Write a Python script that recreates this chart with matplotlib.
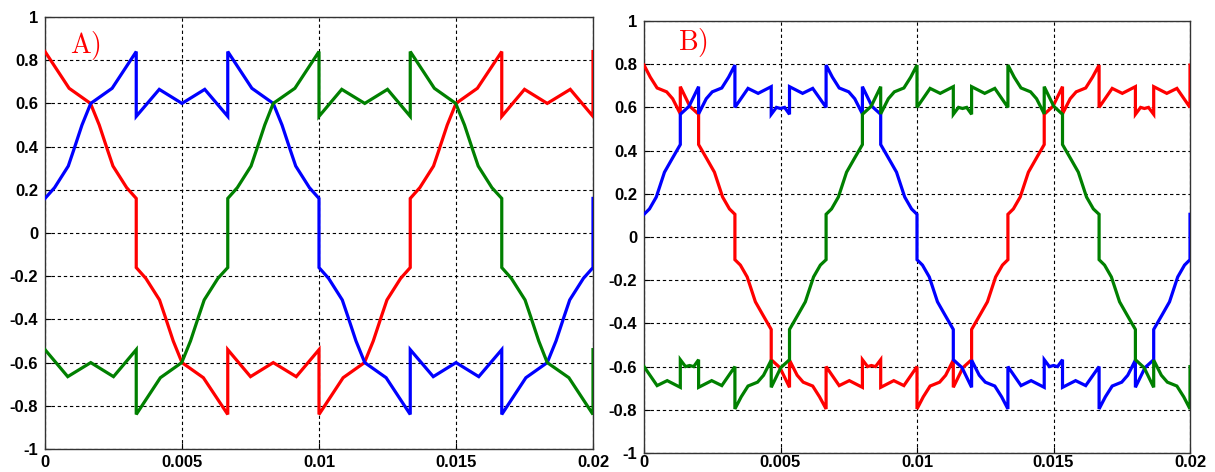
import matplotlib
matplotlib.use("Agg")
import matplotlib.pyplot as plt

plt.rcParams['mathtext.fontset'] = 'cm'

# ---------------- Panel A data ----------------
a_blue_t = [0, 0.00035, 0.00085, 0.00105, 0.00135, 0.00167, 0.00245, 0.00333,
            0.00333, 0.00417, 0.005, 0.00583, 0.00667,
            0.00667, 0.00755, 0.00833, 0.00865, 0.00895, 0.00915, 0.00965, 0.01,
            0.01, 0.01035, 0.01085, 0.01105, 0.01135, 0.01167, 0.01245, 0.01333,
            0.01333, 0.01417, 0.015, 0.01583, 0.01667,
            0.01667, 0.01755, 0.01833, 0.01865, 0.01895, 0.01915, 0.01965, 0.02,
            0.02]
a_blue_y = [0.16, 0.21, 0.31, 0.385, 0.50, 0.60, 0.67, 0.84,
            0.54, 0.665, 0.60, 0.665, 0.54,
            0.84, 0.67, 0.60, 0.50, 0.385, 0.31, 0.21, 0.16,
            -0.16, -0.21, -0.31, -0.385, -0.50, -0.60, -0.67, -0.84,
            -0.54, -0.665, -0.60, -0.665, -0.54,
            -0.84, -0.67, -0.60, -0.50, -0.385, -0.31, -0.21, -0.16,
            0.16]

a_red_t = [0, 0.00088, 0.00166, 0.00198, 0.00228, 0.00248, 0.00298, 0.00333,
           0.00333, 0.00368, 0.00418, 0.00438, 0.00468, 0.005, 0.00578, 0.00667,
           0.00667, 0.0075, 0.00833, 0.00917, 0.01,
           0.01, 0.01088, 0.01166, 0.01198, 0.01228, 0.01248, 0.01298, 0.01333,
           0.01333, 0.01368, 0.01418, 0.01438, 0.01468, 0.015, 0.01578, 0.01667,
           0.01667, 0.0175, 0.01833, 0.01917, 0.02,
           0.02]
a_red_y = [0.84, 0.67, 0.60, 0.50, 0.385, 0.31, 0.21, 0.16,
           -0.16, -0.21, -0.31, -0.385, -0.50, -0.60, -0.67, -0.84,
           -0.54, -0.665, -0.60, -0.665, -0.54,
           -0.84, -0.67, -0.60, -0.50, -0.385, -0.31, -0.21, -0.16,
           0.16, 0.21, 0.31, 0.385, 0.50, 0.60, 0.67, 0.84,
           0.54, 0.665, 0.60, 0.665, 0.54,
           0.84]

a_green_t = [0, 0.00083, 0.00167, 0.0025, 0.00333,
             0.00333, 0.00421, 0.00499, 0.00531, 0.00561, 0.00581, 0.00631, 0.00667,
             0.00667, 0.00702, 0.00752, 0.00772, 0.00802, 0.00833, 0.00912, 0.01,
             0.01, 0.01083, 0.01167, 0.0125, 0.01333,
             0.01333, 0.01421, 0.01499, 0.01531, 0.01561, 0.01581, 0.01631, 0.01667,
             0.01667, 0.01702, 0.01752, 0.01772, 0.01802, 0.01833, 0.01912, 0.02,
             0.02]
a_green_y = [-0.54, -0.665, -0.60, -0.665, -0.54,
             -0.84, -0.67, -0.60, -0.50, -0.385, -0.31, -0.21, -0.16,
             0.16, 0.21, 0.31, 0.385, 0.50, 0.60, 0.67, 0.84,
             0.54, 0.665, 0.60, 0.665, 0.54,
             0.84, 0.67, 0.60, 0.50, 0.385, 0.31, 0.21, 0.16,
             -0.16, -0.21, -0.31, -0.385, -0.50, -0.60, -0.67, -0.84,
             -0.54]

# ---------------- Panel B data ----------------
b_blue_t = [0, 0.0002, 0.00045, 0.00075, 0.00102, 0.00133, 0.00133, 0.00165, 0.002, 0.002, 0.00228, 0.0025, 0.00285, 0.0031, 0.00333,
            0.00333, 0.00381, 0.00418, 0.00466, 0.00466, 0.00485, 0.005, 0.00515, 0.00533, 0.00533, 0.00581, 0.00618, 0.00667,
            0.00667, 0.0069, 0.00715, 0.0075, 0.00772, 0.008, 0.008, 0.00835, 0.00867, 0.00867, 0.00898, 0.00925, 0.00955, 0.0098, 0.01,
            0.01, 0.0102, 0.01045, 0.01075, 0.01102, 0.01133, 0.01133, 0.01165, 0.012, 0.012, 0.01228, 0.0125, 0.01285, 0.0131, 0.01333,
            0.01333, 0.01381, 0.01418, 0.01466, 0.01466, 0.01485, 0.015, 0.01515, 0.01533, 0.01533, 0.01581, 0.01618, 0.01667,
            0.01667, 0.0169, 0.01715, 0.0175, 0.01772, 0.018, 0.018, 0.01835, 0.01867, 0.01867, 0.01898, 0.01925, 0.01955, 0.0198, 0.02,
            0.02]
b_blue_y = [0.105, 0.13, 0.185, 0.30, 0.36, 0.428, 0.568, 0.605, 0.696, 0.57, 0.64, 0.672, 0.69, 0.74, 0.796,
            0.60, 0.688, 0.665, 0.696, 0.568, 0.60, 0.595, 0.60, 0.568, 0.696, 0.665, 0.688, 0.60,
            0.796, 0.74, 0.69, 0.672, 0.64, 0.57, 0.696, 0.605, 0.568, 0.428, 0.36, 0.30, 0.185, 0.13, 0.105,
            -0.105, -0.13, -0.185, -0.30, -0.36, -0.428, -0.568, -0.605, -0.696, -0.57, -0.64, -0.672, -0.69, -0.74, -0.796,
            -0.60, -0.688, -0.665, -0.696, -0.568, -0.60, -0.595, -0.60, -0.568, -0.696, -0.665, -0.688, -0.60,
            -0.796, -0.74, -0.69, -0.672, -0.64, -0.57, -0.696, -0.605, -0.568, -0.428, -0.36, -0.30, -0.185, -0.13, -0.105,
            0.105]

b_red_t = [0, 0.00023, 0.00048, 0.00083, 0.00105, 0.00133, 0.00133, 0.00168, 0.002, 0.002, 0.00231, 0.00258, 0.00288, 0.00313, 0.00333,
           0.00333, 0.00353, 0.00378, 0.00408, 0.00435, 0.00466, 0.00466, 0.00498, 0.00533, 0.00533, 0.00561, 0.00583, 0.00618, 0.00643, 0.00667,
           0.00667, 0.00715, 0.00752, 0.008, 0.008, 0.00819, 0.00833, 0.00848, 0.00867, 0.00867, 0.00915, 0.00952, 0.01,
           0.01, 0.01023, 0.01048, 0.01083, 0.01105, 0.01133, 0.01133, 0.01168, 0.012, 0.012, 0.01231, 0.01258, 0.01288, 0.01313, 0.01333,
           0.01333, 0.01353, 0.01378, 0.01408, 0.01435, 0.01466, 0.01466, 0.01498, 0.01533, 0.01533, 0.01561, 0.01583, 0.01618, 0.01643, 0.01667,
           0.01667, 0.01715, 0.01752, 0.018, 0.018, 0.01819, 0.01833, 0.01848, 0.01867, 0.01867, 0.01915, 0.01952, 0.02,
           0.02]
b_red_y = [0.796, 0.74, 0.69, 0.672, 0.64, 0.57, 0.696, 0.605, 0.568, 0.428, 0.36, 0.30, 0.185, 0.13, 0.105,
           -0.105, -0.13, -0.185, -0.30, -0.36, -0.428, -0.568, -0.605, -0.696, -0.57, -0.64, -0.672, -0.69, -0.74, -0.796,
           -0.60, -0.688, -0.665, -0.696, -0.568, -0.60, -0.595, -0.60, -0.568, -0.696, -0.665, -0.688, -0.60,
           -0.796, -0.74, -0.69, -0.672, -0.64, -0.57, -0.696, -0.605, -0.568, -0.428, -0.36, -0.30, -0.185, -0.13, -0.105,
           0.105, 0.13, 0.185, 0.30, 0.36, 0.428, 0.568, 0.605, 0.696, 0.57, 0.64, 0.672, 0.69, 0.74, 0.796,
           0.60, 0.688, 0.665, 0.696, 0.568, 0.60, 0.595, 0.60, 0.568, 0.696, 0.665, 0.688, 0.60,
           0.796]

b_green_t = [0, 0.00048, 0.00085, 0.00133, 0.00133, 0.00152, 0.00167, 0.00182, 0.002, 0.002, 0.00248, 0.00285, 0.00333,
             0.00333, 0.00356, 0.00381, 0.00416, 0.00438, 0.00466, 0.00466, 0.00501, 0.00533, 0.00533, 0.00564, 0.00591, 0.00621, 0.00646, 0.00667,
             0.00667, 0.00687, 0.00712, 0.00742, 0.00769, 0.008, 0.008, 0.00832, 0.00867, 0.00867, 0.00895, 0.00917, 0.00952, 0.00977, 0.01,
             0.01, 0.01048, 0.01085, 0.01133, 0.01133, 0.01152, 0.01167, 0.01182, 0.012, 0.012, 0.01248, 0.01285, 0.01333,
             0.01333, 0.01356, 0.01381, 0.01416, 0.01438, 0.01466, 0.01466, 0.01501, 0.01533, 0.01533, 0.01564, 0.01591, 0.01621, 0.01646, 0.01667,
             0.01667, 0.01687, 0.01712, 0.01742, 0.01769, 0.018, 0.018, 0.01832, 0.01867, 0.01867, 0.01895, 0.01917, 0.01952, 0.01977, 0.02,
             0.02]
b_green_y = [-0.60, -0.688, -0.665, -0.696, -0.568, -0.60, -0.595, -0.60, -0.568, -0.696, -0.665, -0.688, -0.60,
             -0.796, -0.74, -0.69, -0.672, -0.64, -0.57, -0.696, -0.605, -0.568, -0.428, -0.36, -0.30, -0.185, -0.13, -0.105,
             0.105, 0.13, 0.185, 0.30, 0.36, 0.428, 0.568, 0.605, 0.696, 0.57, 0.64, 0.672, 0.69, 0.74, 0.796,
             0.60, 0.688, 0.665, 0.696, 0.568, 0.60, 0.595, 0.60, 0.568, 0.696, 0.665, 0.688, 0.60,
             0.796, 0.74, 0.69, 0.672, 0.64, 0.57, 0.696, 0.605, 0.568, 0.428, 0.36, 0.30, 0.185, 0.13, 0.105,
             -0.105, -0.13, -0.185, -0.30, -0.36, -0.428, -0.568, -0.605, -0.696, -0.57, -0.64, -0.672, -0.69, -0.74, -0.796,
             -0.60]

x_ticks = [0, 0.005, 0.01, 0.015, 0.02]
x_labels = ["0", "0.005", "0.01", "0.015", "0.02"]
y_ticks = [-1, -0.8, -0.6, -0.4, -0.2, 0, 0.2, 0.4, 0.6, 0.8, 1]
y_labels = ["-1", "-0.8", "-0.6", "-0.4", "-0.2", "0", "0.2", "0.4", "0.6", "0.8", "1"]
panel_titles = ["A)", "B)"]

RED = "#ff0000"
BLUE = "#0000ff"
GREEN = "#008000"

W, H = 1215, 472
fig = plt.figure(figsize=(W / 100, H / 100), dpi=100)
axA = fig.add_axes([45 / W, 1 - 449 / H, (593 - 45) / W, (449 - 17) / H])
axB = fig.add_axes([644 / W, 1 - 453 / H, (1190 - 644) / W, (453 - 21) / H])

panels = [
    (axA, [(a_red_t, a_red_y, RED), (a_blue_t, a_blue_y, BLUE), (a_green_t, a_green_y, GREEN)], (0.0009, 0.87), 4),
    (axB, [(b_red_t, b_red_y, RED), (b_blue_t, b_blue_y, BLUE), (b_green_t, b_green_y, GREEN)], (0.00125, 0.90), 1.5),
]

for (ax, series, lpos, xpad), title in zip(panels, panel_titles):
    for t, y, c in series:
        ax.plot(t, y, color=c, lw=2.3, solid_joinstyle='miter', zorder=3)
    ax.set_xlim(0, 0.02)
    ax.set_ylim(-1, 1)
    ax.set_xticks(x_ticks)
    ax.set_xticklabels(x_labels)
    ax.set_yticks(y_ticks)
    ax.set_yticklabels(y_labels)
    ax.grid(True, color='black', linestyle=(0, (3, 2.5)), linewidth=0.8, zorder=1)
    ax.tick_params(direction='in', length=4, width=0.8, pad=5, colors='black')
    ax.tick_params(axis='x', pad=xpad)
    for lab in ax.get_xticklabels() + ax.get_yticklabels():
        lab.set_fontfamily('Liberation Sans')
        lab.set_fontweight('bold')
        lab.set_fontsize(12)
    for sp in ax.spines.values():
        sp.set_color('#333333')
        sp.set_linewidth(1.0)
    ax.text(lpos[0], lpos[1], r'$\mathrm{' + title[0] + ')}$', color=RED, fontsize=20,
            ha='left', va='center', zorder=4)

fig.savefig("out.png", dpi=100)
